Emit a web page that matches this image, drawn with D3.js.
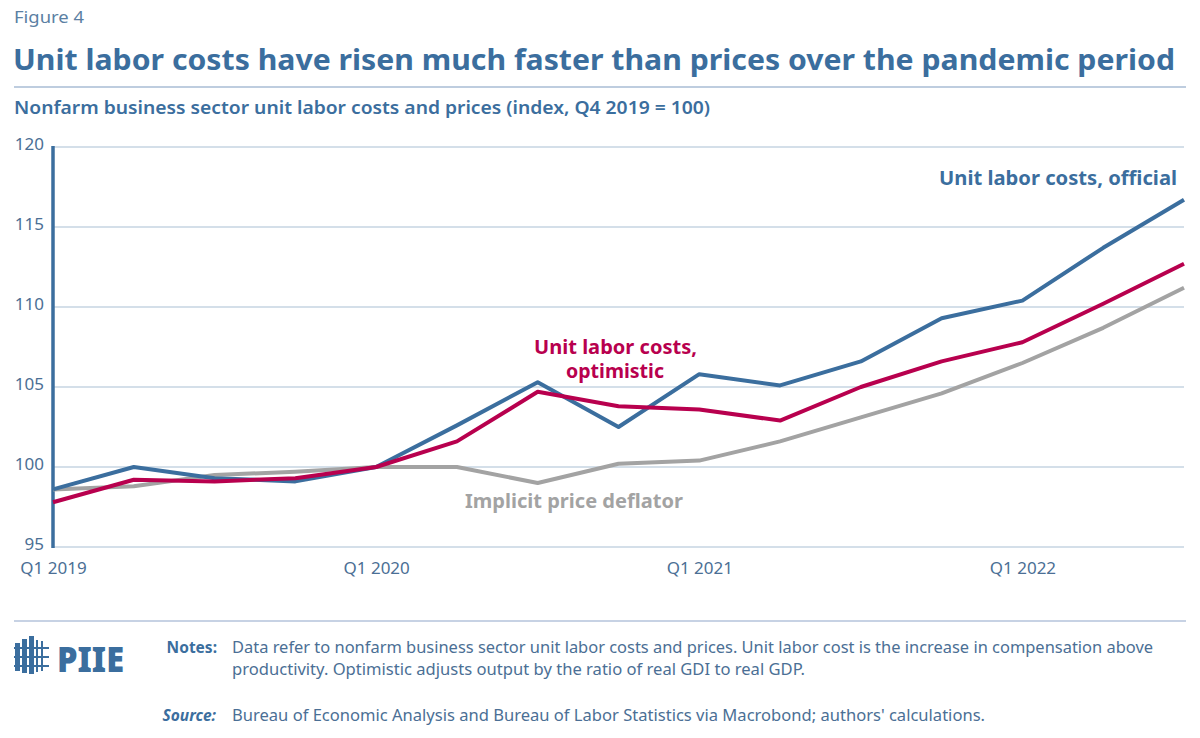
<!DOCTYPE html>
<html lang="en">
<head>
<meta charset="UTF-8">
<title>Figure 4</title>
<style>
  body { margin: 0; background: #fff; }
  svg text { font-family: "Noto Sans", "Open Sans", sans-serif; }
</style>
</head>
<body>
<script src="https://cdn.jsdelivr.net/npm/d3@7/dist/d3.min.js"></script>
<script>
// quarters Q1 2019 .. Q3 2022
var quarters = ["Q1 2019","Q2 2019","Q3 2019","Q4 2019","Q1 2020","Q2 2020","Q3 2020","Q4 2020",
                "Q1 2021","Q2 2021","Q3 2021","Q4 2021","Q1 2022","Q2 2022","Q3 2022"];
var official   = [98.6, 100.0, 99.3, 99.1, 100.0, 102.6, 105.3, 102.5, 105.8, 105.1, 106.6, 109.3, 110.4, 113.7, 116.7];
var optimistic = [97.8, 99.2, 99.1, 99.3, 100.0, 101.6, 104.7, 103.8, 103.6, 102.9, 105.0, 106.6, 107.8, 110.2, 112.7];
var deflator   = [98.6, 98.8, 99.5, 99.7, 100.0, 100.0, 99.0, 100.2, 100.4, 101.6, 103.1, 104.6, 106.5, 108.7, 111.2];
var yTicks = [95, 100, 105, 110, 115, 120];
var xTickLabels = ["Q1 2019", "Q1 2020", "Q1 2021", "Q1 2022"];

var width = 1200, height = 738;
var blue = "#3b6e9e", red = "#b8004e", gray = "#a3a3a3", grid = "#a9bfd3", textBlue = "#4b6f95";

var svg = d3.select("body").append("svg")
    .attr("width", width)
    .attr("height", height);

// header
svg.append("text").attr("x", 14).attr("y", 23)
   .attr("font-size", 16.5).attr("fill", "#5b7fa3")
   .attr("textLength", 70).attr("lengthAdjust", "spacingAndGlyphs").text("Figure 4");
svg.append("text").attr("x", 13).attr("y", 70)
   .attr("font-size", 28.5).attr("font-weight", "bold").attr("fill", blue)
   .attr("textLength", 1162).attr("lengthAdjust", "spacingAndGlyphs")
   .text("Unit labor costs have risen much faster than prices over the pandemic period");
svg.append("line").attr("x1", 14).attr("x2", 1186).attr("y1", 87).attr("y2", 87)
   .attr("stroke", "#a9bdd4").attr("stroke-width", 1.5);
svg.append("text").attr("x", 14).attr("y", 114)
   .attr("font-size", 18).attr("font-weight", 600).attr("fill", blue)
   .attr("textLength", 696).attr("lengthAdjust", "spacingAndGlyphs")
   .text("Nonfarm business sector unit labor costs and prices (index, Q4 2019 = 100)");

// scales
var x = d3.scalePoint().domain(quarters).range([53, 1184]);
var y = d3.scaleLinear().domain([95, 120]).range([547, 147]);

// gridlines
svg.append("g").selectAll("line").data(yTicks).enter().append("line")
   .attr("x1", 53).attr("x2", 1184)
   .attr("y1", function(d) { return y(d); })
   .attr("y2", function(d) { return y(d); })
   .attr("stroke", grid).attr("stroke-width", 1.2);

// y axis labels
var yAxis = d3.axisLeft(y).tickValues(yTicks).tickSize(0).tickPadding(9);
var gy = svg.append("g").attr("transform", "translate(53,0)").call(yAxis);
gy.select(".domain").remove();
gy.selectAll("text").attr("font-size", 17).attr("fill", textBlue)
  .attr("font-family", "\"Noto Sans\", sans-serif").attr("dy", "0.15em");

// x axis labels
var xAxis = d3.axisBottom(x).tickValues(xTickLabels).tickSize(0).tickPadding(15);
var gx = svg.append("g").attr("transform", "translate(0,547)").call(xAxis);
gx.select(".domain").remove();
gx.selectAll("text").attr("font-size", 17).attr("fill", textBlue)
  .attr("font-family", "\"Noto Sans\", sans-serif");

// vertical axis line
svg.append("line").attr("x1", 53).attr("x2", 53).attr("y1", 146).attr("y2", 548)
   .attr("stroke", blue).attr("stroke-width", 3.5);

// lines
var line = d3.line()
    .x(function(d, i) { return x(quarters[i]); })
    .y(function(d) { return y(d); });

var series = [
  { values: deflator, color: gray },
  { values: official, color: blue },
  { values: optimistic, color: red }
];
svg.append("g").selectAll("path").data(series).enter().append("path")
   .attr("d", function(d) { return line(d.values); })
   .attr("fill", "none")
   .attr("stroke", function(d) { return d.color; })
   .attr("stroke-width", 4)
   .attr("stroke-linejoin", "round");

// series labels
svg.append("text").attr("x", 1177).attr("y", 185).attr("text-anchor", "end")
   .attr("font-size", 19).attr("font-weight", "bold").attr("fill", blue)
   .attr("textLength", 238).attr("lengthAdjust", "spacingAndGlyphs")
   .text("Unit labor costs, official");
svg.append("text").attr("x", 534).attr("y", 354)
   .attr("font-size", 19).attr("font-weight", "bold").attr("fill", red)
   .attr("textLength", 163).attr("lengthAdjust", "spacingAndGlyphs")
   .text("Unit labor costs,");
svg.append("text").attr("x", 566).attr("y", 378)
   .attr("font-size", 19).attr("font-weight", "bold").attr("fill", red)
   .attr("textLength", 98).attr("lengthAdjust", "spacingAndGlyphs")
   .text("optimistic");
svg.append("text").attr("x", 465).attr("y", 508)
   .attr("font-size", 19).attr("font-weight", "bold").attr("fill", gray)
   .attr("textLength", 218).attr("lengthAdjust", "spacingAndGlyphs")
   .text("Implicit price deflator");

// footer
svg.append("line").attr("x1", 14).attr("x2", 1186).attr("y1", 621).attr("y2", 621)
   .attr("stroke", "#b4c3db").attr("stroke-width", 1.5);

// logo
var logo = svg.append("g").attr("fill", blue);
[[15, 643, 5, 28], [22, 639, 5, 34], [29, 636, 5, 38], [36, 640, 2, 32], [41, 641, 2, 30]].forEach(function(r) {
  logo.append("rect").attr("x", r[0]).attr("y", r[1]).attr("width", r[2]).attr("height", r[3]);
});
[647, 656, 665].forEach(function(yy) {
  logo.append("rect").attr("x", 14).attr("y", yy).attr("width", 35).attr("height", 2).attr("fill", blue);
});
svg.append("text").attr("x", 57).attr("y", 672)
   .attr("font-size", 35).attr("font-weight", 900).attr("fill", blue)
   .attr("font-family", "\"DejaVu Sans\", sans-serif")
   .attr("textLength", 67).attr("lengthAdjust", "spacingAndGlyphs")
   .text("PIIE");

svg.append("text").attr("x", 217).attr("y", 653).attr("text-anchor", "end")
   .attr("font-size", 15.5).attr("font-weight", "bold").attr("fill", blue).text("Notes:");
svg.append("text").attr("x", 232).attr("y", 653)
   .attr("font-size", 15.5).attr("fill", textBlue)
   .attr("textLength", 921).attr("lengthAdjust", "spacingAndGlyphs")
   .text("Data refer to nonfarm business sector unit labor costs and prices. Unit labor cost is the increase in compensation above");
svg.append("text").attr("x", 232).attr("y", 675)
   .attr("font-size", 15.5).attr("fill", textBlue)
   .attr("textLength", 573).attr("lengthAdjust", "spacingAndGlyphs")
   .text("productivity. Optimistic adjusts output by the ratio of real GDI to real GDP.");
svg.append("text").attr("x", 216).attr("y", 721).attr("text-anchor", "end")
   .attr("font-size", 15.5).attr("font-weight", "bold").attr("font-style", "italic").attr("fill", blue).text("Source:");
svg.append("text").attr("x", 232).attr("y", 721)
   .attr("font-size", 15.5).attr("fill", textBlue)
   .attr("textLength", 753).attr("lengthAdjust", "spacingAndGlyphs")
   .text("Bureau of Economic Analysis and Bureau of Labor Statistics via Macrobond; authors' calculations.");
</script>
</body>
</html>
